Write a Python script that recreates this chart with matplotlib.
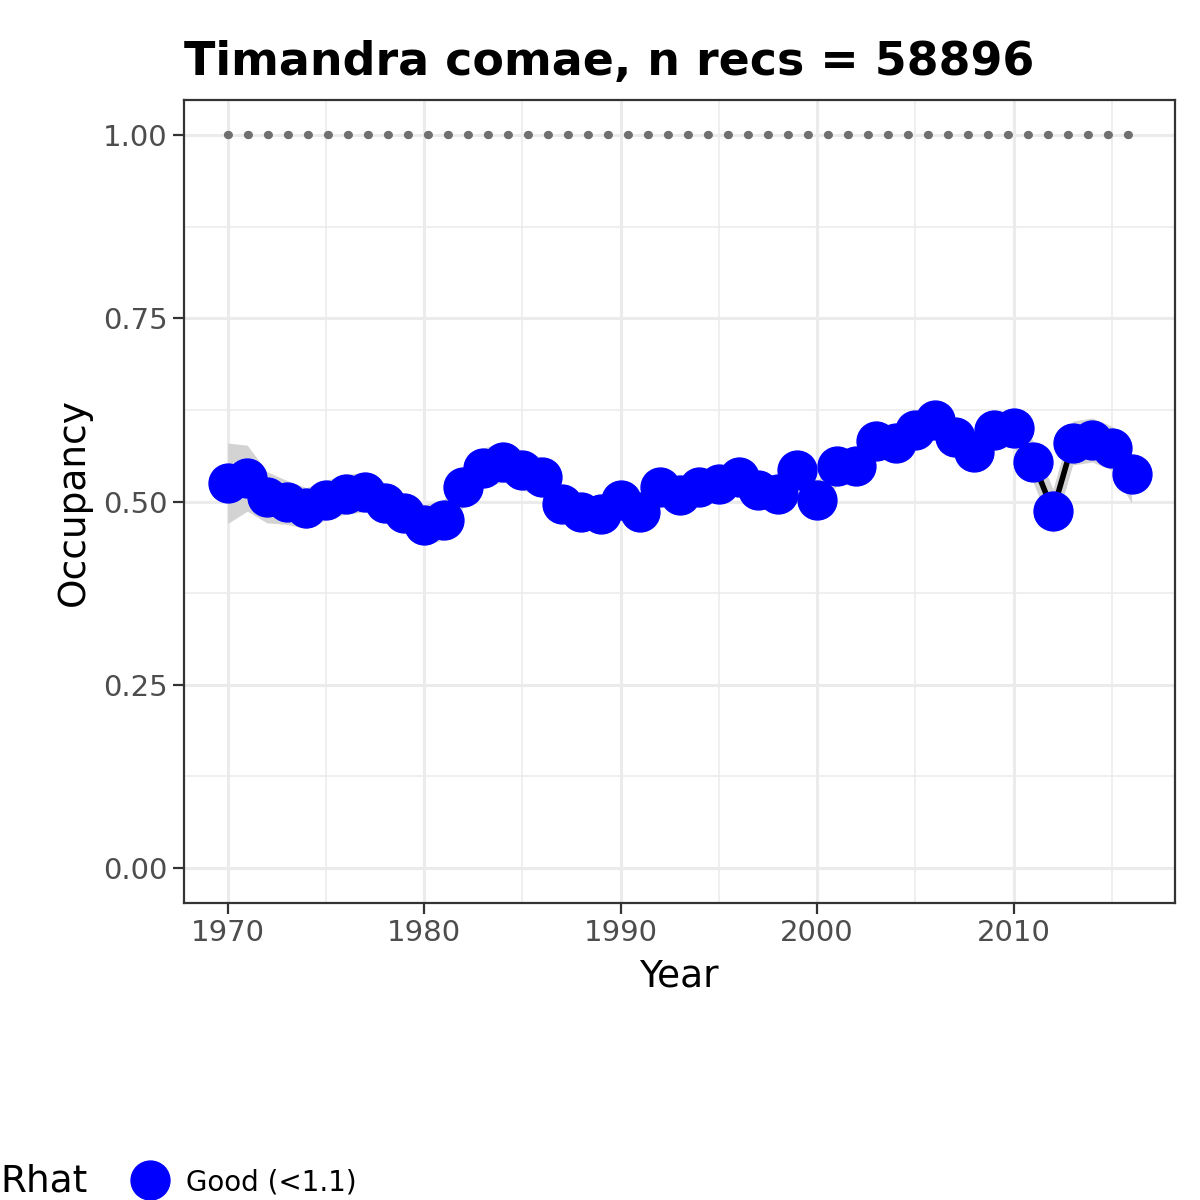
import numpy as np
import matplotlib.pyplot as plt
from matplotlib.ticker import MultipleLocator
from matplotlib.lines import Line2D

years = np.arange(1970, 2017)
occ = [0.525, 0.532, 0.506, 0.499, 0.491, 0.502, 0.510, 0.513, 0.498, 0.484,
       0.468, 0.475, 0.520, 0.546, 0.554, 0.543, 0.533, 0.497, 0.486, 0.483,
       0.502, 0.486, 0.520, 0.509, 0.520, 0.524, 0.533, 0.516, 0.510, 0.543,
       0.502, 0.548, 0.548, 0.583, 0.580, 0.598, 0.611, 0.588, 0.568, 0.598,
       0.600, 0.554, 0.487, 0.580, 0.584, 0.573, 0.538]
ci_half = [0.055, 0.045, 0.035, 0.030, 0.028, 0.027, 0.027, 0.027, 0.027, 0.027,
           0.028, 0.027, 0.027, 0.027, 0.027, 0.027, 0.027, 0.025, 0.024, 0.024,
           0.024, 0.024, 0.024, 0.024, 0.024, 0.024, 0.024, 0.024, 0.024, 0.025,
           0.025, 0.025, 0.025, 0.025, 0.025, 0.025, 0.025, 0.025, 0.025, 0.025,
           0.025, 0.028, 0.030, 0.030, 0.030, 0.030, 0.040]

occ = np.array(occ)
ci_half = np.array(ci_half)

fig = plt.figure(figsize=(12, 12), dpi=100)
ax = fig.add_axes([0.153, 0.2475, 0.826, 0.669])

ax.fill_between(years, occ - ci_half, occ + ci_half, color="#d3d3d3", lw=0, zorder=1)
ax.plot(years, np.ones(len(years)), ls=(0, (0.1, 2.3)), lw=6, color="#707070",
        dash_capstyle="round", zorder=2)
ax.plot(years, occ, color="black", lw=4, zorder=3)
ax.plot(years, occ, "o", color="blue", ms=28, zorder=4)

ax.set_xlim(1967.76, 2018.2)
ax.set_ylim(-0.048, 1.048)
ax.xaxis.set_major_locator(MultipleLocator(10))
ax.xaxis.set_minor_locator(MultipleLocator(5))
ax.yaxis.set_major_locator(MultipleLocator(0.25))
ax.yaxis.set_minor_locator(MultipleLocator(0.125))
ax.set_yticklabels([])
ax.set_yticks([0, 0.25, 0.5, 0.75, 1.0])
ax.set_yticklabels(["0.00", "0.25", "0.50", "0.75", "1.00"])
ax.grid(which="major", color="#ebebeb", lw=2.2)
ax.grid(which="minor", color="#ebebeb", lw=1.1)
ax.set_axisbelow(True)
for s in ax.spines.values():
    s.set_color("#333333")
    s.set_linewidth(1.6)
ax.tick_params(which="major", length=8, width=1.6, color="#333333",
               labelsize=21, labelcolor="#4d4d4d")
ax.tick_params(which="minor", length=0)

ax.set_xlabel("Year", fontsize=27, labelpad=8)
ax.set_ylabel("Occupancy", fontsize=27, labelpad=8)
ax.set_title("Timandra comae, n recs = 58896", fontsize=33, fontweight="bold",
             loc="left", x=0.0, pad=18)

handle = Line2D([], [], ls="none", marker="o", color="blue", ms=28)
fig.legend([handle], ["Good (<1.1)"], title="Rhat", loc="center",
           bbox_to_anchor=(0.56, 0.067), frameon=False, fontsize=20,
           title_fontsize=27, handletextpad=0.3, alignment="left")
leg = fig.legends[0]
leg._legend_box.align = "left"
# put title beside the entry (ggplot style)
leg._legend_box.sep = 0
from matplotlib.offsetbox import HPacker
children = leg._legend_box.get_children()
leg._legend_box = HPacker(pad=0, sep=25, align="center", children=children)
leg._legend_box.set_figure(fig)
leg._legend_box.axes = None

fig.savefig("out.png", dpi=100)
